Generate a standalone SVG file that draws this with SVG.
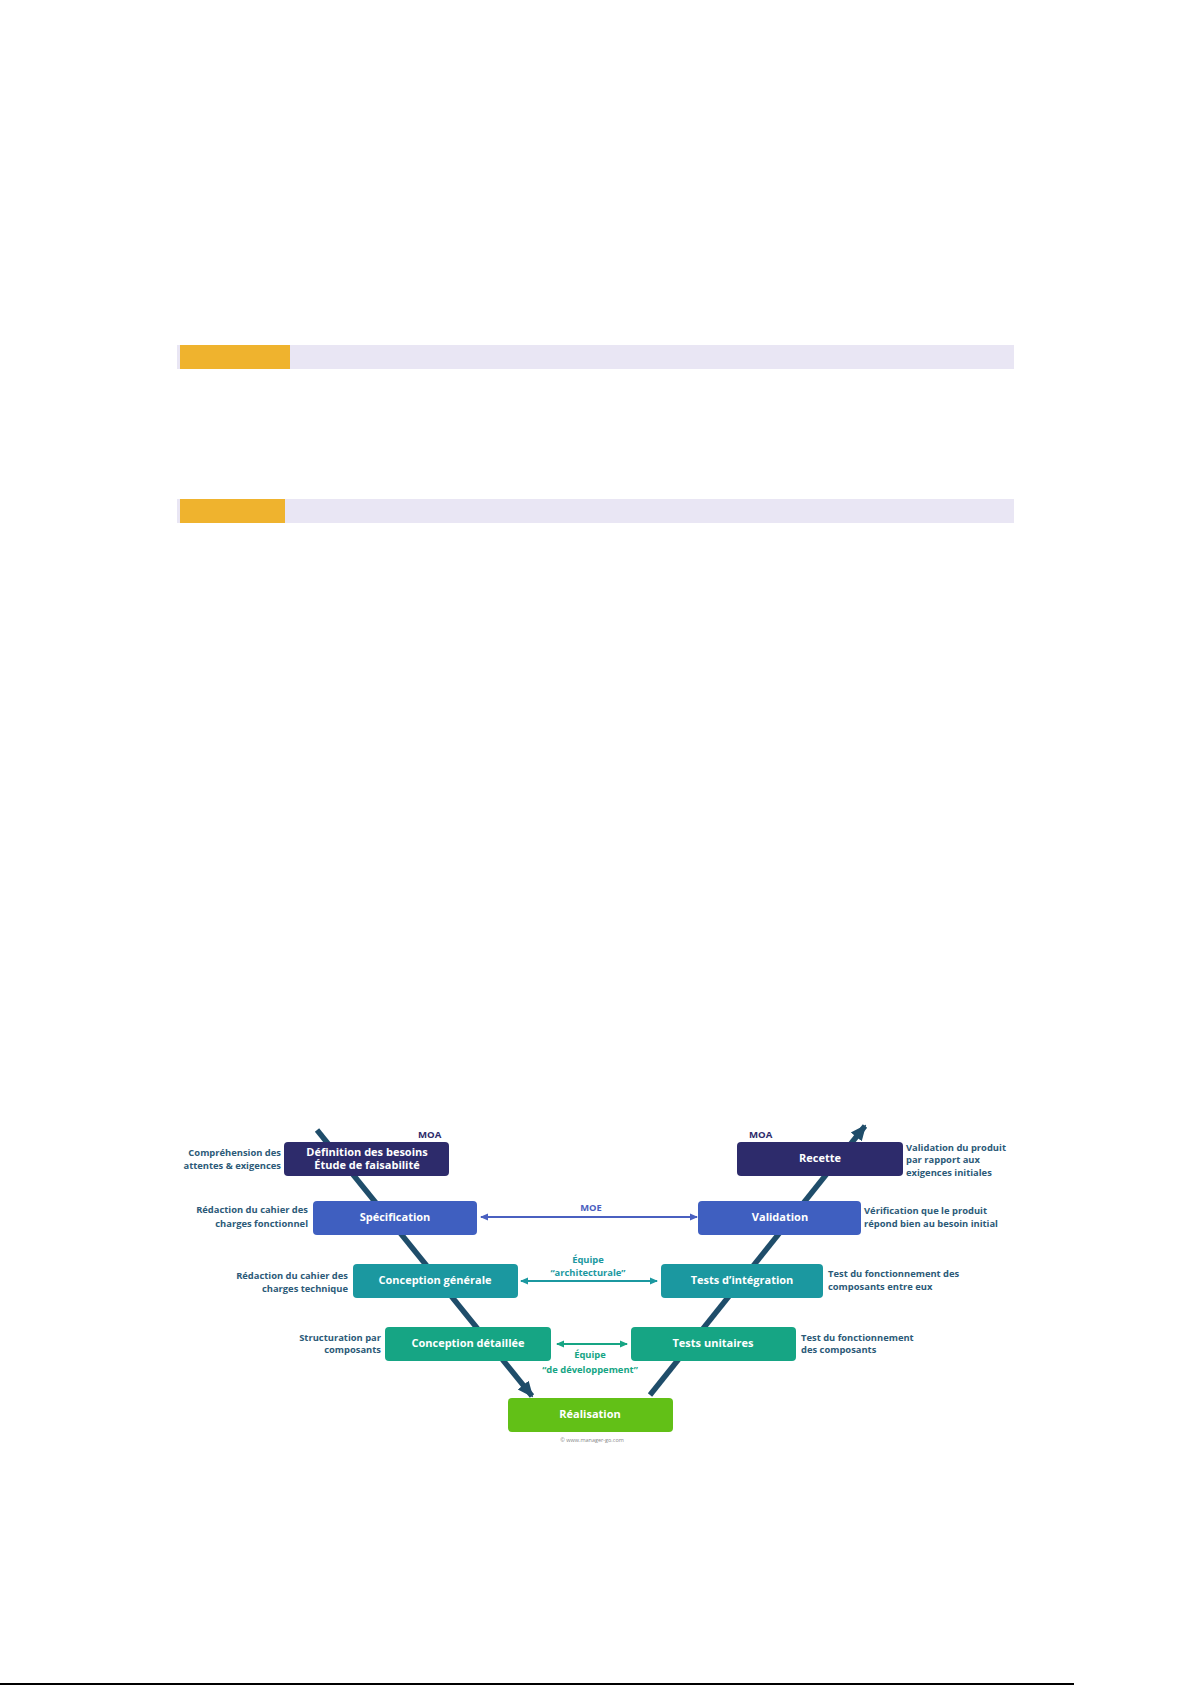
<svg xmlns="http://www.w3.org/2000/svg" width="1192" height="1685" viewBox="0 0 1192 1685">
<style>
.box{stroke:none}
.bt{font-family:"Open Sans","Liberation Sans",sans-serif;font-weight:700;font-size:11px;fill:#ffffff;text-anchor:middle}
.side{font-family:"Open Sans","Liberation Sans",sans-serif;font-weight:700;font-size:9.4px;fill:#2c5a78}
.l{text-anchor:end}
.moa{font-family:"Open Sans","Liberation Sans",sans-serif;font-weight:700;font-size:9.6px;fill:#2d2b6b}
.lab{font-family:"Open Sans","Liberation Sans",sans-serif;font-weight:700;font-size:9.4px;text-anchor:middle}
.diag{stroke:#1f4d6a;stroke-width:5.5;fill:none}
</style>
<defs>
<marker id="ad" markerUnits="userSpaceOnUse" markerWidth="16" markerHeight="16" viewBox="0 0 16 16" refX="14" refY="8" orient="auto"><path d="M0,1 L16,8 L0,15 Z" fill="#1f4d6a"/></marker>
<marker id="am" markerUnits="userSpaceOnUse" markerWidth="8" markerHeight="8" viewBox="0 0 8 8" refX="7" refY="4" orient="auto-start-reverse"><path d="M0,0.5 L8,4 L0,7.5 Z" fill="#4a60c0"/></marker>
<marker id="aa" markerUnits="userSpaceOnUse" markerWidth="8" markerHeight="8" viewBox="0 0 8 8" refX="7" refY="4" orient="auto-start-reverse"><path d="M0,0.5 L8,4 L0,7.5 Z" fill="#1b98a0"/></marker>
<marker id="ag" markerUnits="userSpaceOnUse" markerWidth="8" markerHeight="8" viewBox="0 0 8 8" refX="7" refY="4" orient="auto-start-reverse"><path d="M0,0.5 L8,4 L0,7.5 Z" fill="#16a584"/></marker>
</defs>
<rect width="1192" height="1685" fill="#ffffff"/>
<g id="bar1"><rect x="177" y="345" width="837" height="24" fill="#e9e6f4"/><rect x="180" y="345" width="110" height="24" fill="#efb32e"/></g>
<g id="bar2"><rect x="177" y="499" width="837" height="24" fill="#e9e6f4"/><rect x="180" y="499" width="105" height="24" fill="#efb32e"/></g>
<g id="connectors">
<path class="diag" d="M317,1130 L532,1396" marker-end="url(#ad)"/>
<path class="diag" d="M650,1395 L865,1126" marker-end="url(#ad)"/>
<path d="M481,1217 L697,1217" stroke="#4a60c0" stroke-width="2" marker-start="url(#am)" marker-end="url(#am)"/>
<path d="M521,1281 L657,1281" stroke="#1b98a0" stroke-width="2" marker-start="url(#aa)" marker-end="url(#aa)"/>
<path d="M557,1344 L627,1344" stroke="#16a584" stroke-width="2" marker-start="url(#ag)" marker-end="url(#ag)"/>
</g>
<g id="definition"><rect class="box" x="284" y="1142" width="165" height="34" rx="4" fill="#2d2b6b"/><text class="bt" x="367" y="1156">Définition des besoins</text><text class="bt" x="367" y="1169">Étude de faisabilité</text></g>
<g id="specification"><rect class="box" x="313" y="1201" width="164" height="34" rx="4" fill="#3f5fc0"/><text class="bt" x="395" y="1221">Spécification</text></g>
<g id="conception-generale"><rect class="box" x="353" y="1264" width="165" height="34" rx="4" fill="#1b98a0"/><text class="bt" x="435" y="1284">Conception générale</text></g>
<g id="conception-detaillee"><rect class="box" x="385" y="1327" width="166" height="34" rx="4" fill="#16a584"/><text class="bt" x="468" y="1347">Conception détaillée</text></g>
<g id="realisation"><rect class="box" x="508" y="1398" width="165" height="34" rx="4" fill="#62c017"/><text class="bt" x="590" y="1418">Réalisation</text></g>
<g id="tests-unitaires"><rect class="box" x="631" y="1327" width="165" height="34" rx="4" fill="#16a584"/><text class="bt" x="713" y="1347">Tests unitaires</text></g>
<g id="tests-integration"><rect class="box" x="661" y="1264" width="162" height="34" rx="4" fill="#1b98a0"/><text class="bt" x="742" y="1284">Tests d’intégration</text></g>
<g id="validation"><rect class="box" x="698" y="1201" width="163" height="34" rx="4" fill="#3f5fc0"/><text class="bt" x="780" y="1221">Validation</text></g>
<g id="recette"><rect class="box" x="737" y="1142" width="166" height="34" rx="4" fill="#2d2b6b"/><text class="bt" x="820" y="1162">Recette</text></g>
<g id="labels">
<text class="moa" x="418" y="1138">MOA</text>
<text class="moa" x="749" y="1138">MOA</text>
<text class="side l" x="281" y="1156">Compréhension des</text>
<text class="side l" x="281" y="1169">attentes &amp; exigences</text>
<text class="side l" x="308" y="1213">Rédaction du cahier des</text>
<text class="side l" x="308" y="1227">charges fonctionnel</text>
<text class="side l" x="348" y="1279">Rédaction du cahier des</text>
<text class="side l" x="348" y="1292">charges technique</text>
<text class="side l" x="381" y="1341">Structuration par</text>
<text class="side l" x="381" y="1353">composants</text>
<text class="side" x="906" y="1151">Validation du produit</text>
<text class="side" x="906" y="1163">par rapport aux</text>
<text class="side" x="906" y="1176">exigences initiales</text>
<text class="side" x="864" y="1214">Vérification que le produit</text>
<text class="side" x="864" y="1227">répond bien au besoin initial</text>
<text class="side" x="828" y="1277">Test du fonctionnement des</text>
<text class="side" x="828" y="1290">composants entre eux</text>
<text class="side" x="801" y="1341">Test du fonctionnement</text>
<text class="side" x="801" y="1353">des composants</text>
<text class="lab" x="591" y="1211" fill="#4a60c0">MOE</text>
<text class="lab" x="588" y="1263" fill="#1b98a0">Équipe</text>
<text class="lab" x="588" y="1276" fill="#1b98a0">“architecturale”</text>
<text class="lab" x="590" y="1358" fill="#16a584">Équipe</text>
<text class="lab" x="590" y="1373" fill="#16a584">“de développement”</text>
<text x="592" y="1442" font-family="Open Sans, Liberation Sans, sans-serif" font-size="5.5" fill="#888888" text-anchor="middle">© www.manager-go.com</text>
</g>
<rect x="0" y="1683" width="1074" height="2" fill="#000000"/>
</svg>
